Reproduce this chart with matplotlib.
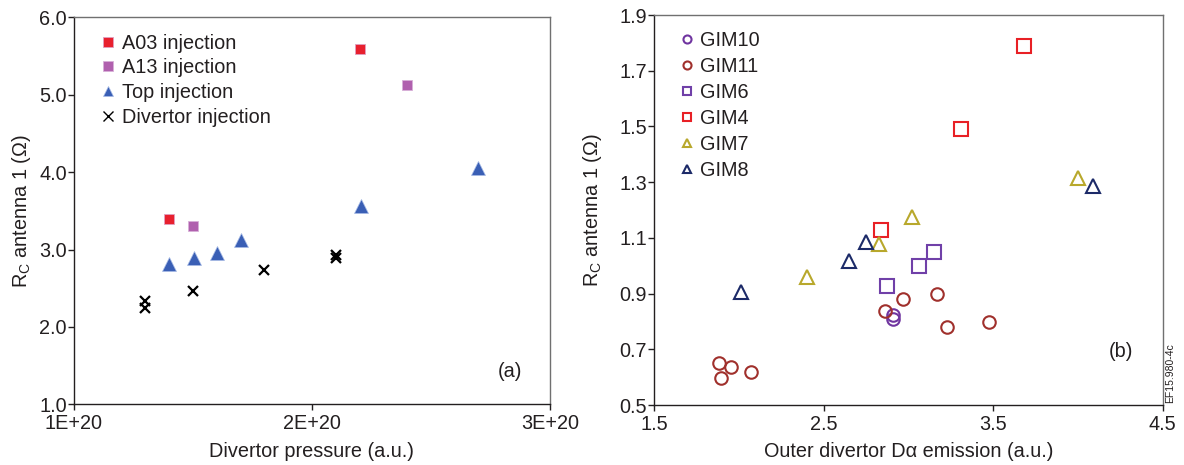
import matplotlib
matplotlib.use("Agg")
import matplotlib.pyplot as plt
from matplotlib.ticker import FixedLocator

plt.rcParams['font.family'] = ['Liberation Sans', 'DejaVu Sans']
plt.rcParams['mathtext.fontset'] = 'custom'
plt.rcParams['mathtext.rm'] = 'Liberation Sans'
plt.rcParams['mathtext.it'] = 'Liberation Sans'

TXT = "#231f20"

# Panel (a): coupling resistance vs divertor pressure
a03_x = [1.40e20, 2.20e20]
a03_y = [3.40, 5.59]
a13_x = [1.50e20, 2.40e20]
a13_y = [3.30, 5.13]
top_x = [1.40e20, 1.505e20, 1.60e20, 1.70e20, 2.206e20, 2.696e20]
top_y = [2.81, 2.89, 2.96, 3.12, 3.56, 4.05]
div_x = [1.30e20, 1.30e20, 1.50e20, 1.80e20, 2.10e20, 2.10e20]
div_y = [2.33, 2.24, 2.46, 2.73, 2.93, 2.89]

a_xticks = [1e20, 2e20, 3e20]
a_xticklabels = ["1E+20", "2E+20", "3E+20"]
a_yticks = [1.0, 2.0, 3.0, 4.0, 5.0, 6.0]

# Panel (b): coupling resistance vs outer divertor D-alpha emission
gim10_x = [2.91, 2.91]
gim10_y = [0.823, 0.808]
gim11_x = [1.884, 1.892, 1.952, 2.07, 2.861, 2.97, 3.17, 3.229, 3.476]
gim11_y = [0.650, 0.598, 0.638, 0.620, 0.839, 0.879, 0.899, 0.779, 0.799]
gim6_x = [2.871, 3.062, 3.150]
gim6_y = [0.928, 0.999, 1.048]
gim4_x = [2.837, 3.31, 3.679]
gim4_y = [1.128, 1.490, 1.789]
gim7_x = [2.40, 2.828, 3.02, 4.00]
gim7_y = [0.958, 1.077, 1.176, 1.316]
gim8_x = [2.01, 2.65, 2.749, 4.088]
gim8_y = [0.906, 1.017, 1.086, 1.287]

b_xticks = [1.5, 2.5, 3.5, 4.5]
b_yticks = [0.5, 0.7, 0.9, 1.1, 1.3, 1.5, 1.7, 1.9]

fig = plt.figure(figsize=(11.84, 4.65), dpi=100)
ax1 = fig.add_axes([0.0625, 0.1305, 0.402, 0.8323])
ax2 = fig.add_axes([0.5526, 0.129, 0.4294, 0.8387])

FS = 14.3


def style_axes(ax):
    for side in ("top", "right"):
        ax.spines[side].set_color("#707070")
        ax.spines[side].set_linewidth(1.0)
    for side in ("left", "bottom"):
        ax.spines[side].set_color(TXT)
        ax.spines[side].set_linewidth(1.0)
    ax.tick_params(direction="out", length=4.3, width=1.0, labelsize=FS,
                   colors=TXT, labelcolor=TXT)
    ax.tick_params(axis="x", pad=3)
    ax.tick_params(axis="y", pad=1)


# ---- panel (a)
ax1.plot(a03_x, a03_y, ls="none", marker="s", ms=7.2, color="#e8202e",
         mec="#e0a0c0", mew=0.6, label="A03 injection")
ax1.plot(a13_x, a13_y, ls="none", marker="s", ms=7.2, color="#b060ae",
         mec="#d8b0d8", mew=0.6, label="A13 injection")
ax1.plot(top_x, top_y, ls="none", marker="^", ms=10, color="#3a5fb5",
         mec="#a8bce6", mew=0.5, label="Top injection")
ax1.plot(div_x, div_y, ls="none", marker="x", ms=6.5, color="black",
         mew=1.6, label="Divertor injection")

ax1.set_xlim(1e20, 3e20)
ax1.set_ylim(1.0, 6.0)
ax1.xaxis.set_major_locator(FixedLocator(a_xticks))
ax1.set_xticklabels(a_xticklabels)
ax1.yaxis.set_major_locator(FixedLocator(a_yticks))
ax1.set_yticklabels([f"{v:.1f}" for v in a_yticks])
style_axes(ax1)
ax1.set_xlabel("Divertor pressure (a.u.)", fontsize=FS, labelpad=6, color=TXT)
ax1.set_ylabel(r"R$_{\mathrm{C}}$ antenna 1 ($\Omega$)", fontsize=FS,
               labelpad=4, color=TXT)
ax1.text(0.9426, 0.086, "(a)", transform=ax1.transAxes, fontsize=FS,
         ha="right", va="center", color=TXT)
leg1 = ax1.legend(loc="upper left", bbox_to_anchor=(0.056, 0.958),
                  frameon=False, fontsize=FS, handlelength=0.7,
                  handletextpad=0.35, labelspacing=0.29, borderpad=0,
                  borderaxespad=0)
for h, s in zip(leg1.legend_handles, [7.0, 7.0, 7.2, 7.0]):
    h.set_markersize(s)
for t in leg1.get_texts():
    t.set_color(TXT)
leg1.legend_handles[3].set_markeredgewidth(1.0)

# ---- panel (b)
ms_c = 9
ms_s = 9.4
ms_t = 9.5
lw_m = 1.5
ax2.plot(gim10_x, gim10_y, ls="none", marker="o", ms=ms_c, mfc="none",
         mec="#7035a0", mew=lw_m, label="GIM10")
ax2.plot(gim11_x, gim11_y, ls="none", marker="o", ms=ms_c, mfc="none",
         mec="#a0302c", mew=lw_m, label="GIM11")
ax2.plot(gim6_x, gim6_y, ls="none", marker="s", ms=ms_s, mfc="none",
         mec="#7040a8", mew=lw_m, label="GIM6")
ax2.plot(gim4_x, gim4_y, ls="none", marker="s", ms=ms_s, mfc="none",
         mec="#e82025", mew=lw_m, label="GIM4")
ax2.plot(gim7_x, gim7_y, ls="none", marker="^", ms=ms_t, mfc="none",
         mec="#b8a82c", mew=lw_m, label="GIM7")
ax2.plot(gim8_x, gim8_y, ls="none", marker="^", ms=ms_t, mfc="none",
         mec="#1c2a68", mew=lw_m, label="GIM8")

ax2.set_xlim(1.5, 4.5)
ax2.set_ylim(0.5, 1.9)
ax2.xaxis.set_major_locator(FixedLocator(b_xticks))
ax2.set_xticklabels([f"{v:.1f}" for v in b_xticks])
ax2.yaxis.set_major_locator(FixedLocator(b_yticks))
ax2.set_yticklabels([f"{v:.1f}" for v in b_yticks])
style_axes(ax2)
ax2.set_xlabel(u"Outer divertor D\u03b1 emission (a.u.)", fontsize=FS,
               labelpad=6, color=TXT)
ax2.set_ylabel(r"R$_{\mathrm{C}}$ antenna 1 ($\Omega$)", fontsize=FS,
               labelpad=11, color=TXT)
ax2.text(0.942, 0.137, "(b)", transform=ax2.transAxes, fontsize=FS,
         ha="right", va="center", color=TXT)
leg2 = ax2.legend(loc="upper left", bbox_to_anchor=(0.052, 0.958),
                  frameon=False, fontsize=FS, handlelength=0.6,
                  handletextpad=0.37, labelspacing=0.35, borderpad=0,
                  borderaxespad=0)
for h in leg2.legend_handles:
    h.set_markersize(5.8)
for t in leg2.get_texts():
    t.set_color(TXT)

fig.text(0.988, 0.1333, "EF15.980-4c", rotation=90, fontsize=7.5,
         ha="center", va="bottom", color=TXT)

fig.savefig("out.png", dpi=100)
